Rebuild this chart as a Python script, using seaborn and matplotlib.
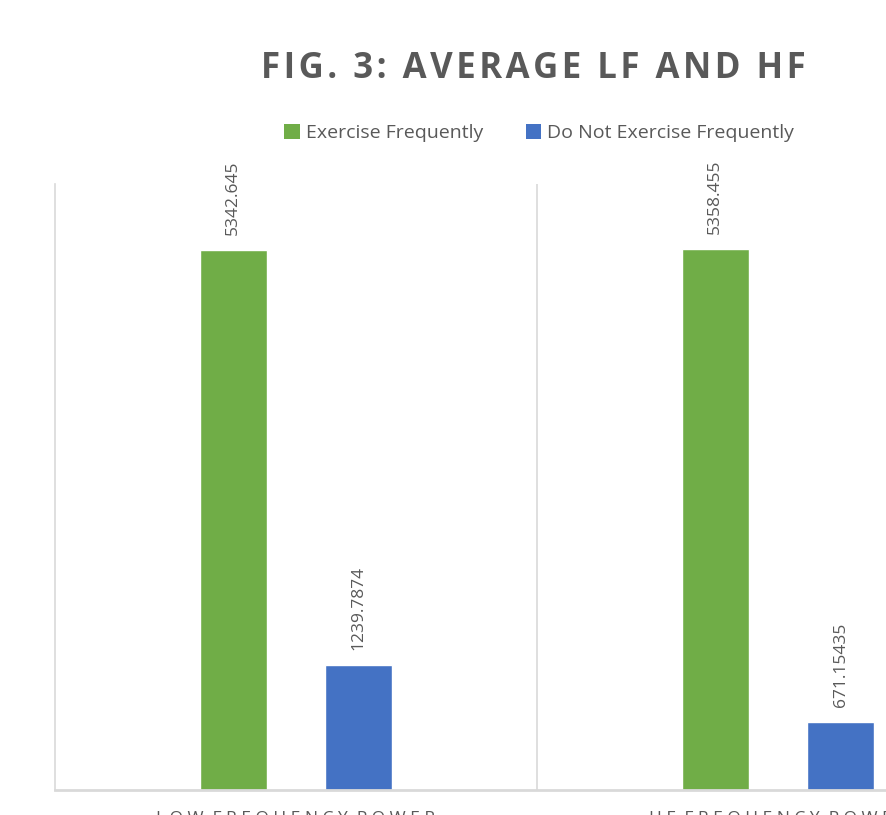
import matplotlib
matplotlib.use("Agg")
import matplotlib.pyplot as plt
import seaborn as sns
import pandas as pd
from matplotlib.patches import Patch

categories = ["LOW FREQUENCY POWER", "HF FREQUENCY POWER"]
groups = ["Exercise Frequently", "Do Not Exercise Frequently"]
exercise_vals = [5342.645, 5358.455]
no_exercise_vals = [1239.7874, 671.15435]
label_texts = [["5342.645", "5358.455"], ["1239.7874", "671.15435"]]
title = "FIG. 3: AVERAGE LF AND HF"

colors = ["#70AD47", "#4472C4"]
gray = "#595959"

df = pd.DataFrame({
    "category": categories * 2,
    "group": [groups[0]] * 2 + [groups[1]] * 2,
    "value": exercise_vals + no_exercise_vals,
})

sns.set_theme(style="white")
plt.rcParams["font.family"] = ["Open Sans", "DejaVu Sans"]

fig = plt.figure(figsize=(8.87, 8.15), dpi=100)
ax = fig.add_axes([55 / 887, 25 / 815, 964 / 887, 606 / 815])

sns.barplot(data=df, x="category", y="value", hue="group", order=categories,
            hue_order=groups, palette=colors, width=0.52, gap=0.47,
            saturation=1, ax=ax, legend=False, errorbar=None)

ax.set_xlim(-0.5, 1.5)
ax.set_ylim(0, 6000)
ax.set_yticks([])
ax.set_xlabel("")
ax.set_ylabel("")

for container, labels in zip(ax.containers, label_texts):
    ax.bar_label(container, labels=labels, rotation=90, padding=11,
                 fontsize=12.5, color=gray)

for s in ["top", "right"]:
    ax.spines[s].set_visible(False)
ax.spines["left"].set_color("#d9d9d9")
ax.spines["left"].set_linewidth(1.2)
ax.spines["bottom"].set_color("#d9d9d9")
ax.spines["bottom"].set_linewidth(2)
ax.axvline(0.5, color="#d9d9d9", lw=1.2, zorder=0)
ax.axvline(1.5, color="#d9d9d9", lw=1.2, zorder=0)


def spaced(s, sep):
    return sep.join(list(s))


def tick_spaced(s):
    return "  ".join(" ".join(list(w)) for w in s.split(" "))


ax.tick_params(axis="x", length=0, pad=15, labelsize=12.5, labelcolor=gray)
ax.set_xticks(range(len(categories)))
ax.set_xticklabels([tick_spaced(c) for c in categories])

fig.text(533 / 887, 1 - 69 / 815, spaced(title, "\u200a"), ha="center",
         va="center", fontsize=25, fontweight="bold", color=gray,
         family=["Open Sans", "DejaVu Sans"])

handles = [Patch(facecolor=c, edgecolor="none") for c in colors]
fig.legend(handles, groups, loc="center", bbox_to_anchor=(539 / 887, 1 - 133 / 815),
           ncol=2, frameon=False, fontsize=14, labelcolor=gray,
           handlelength=0.8, handleheight=0.8, handletextpad=0.3, columnspacing=2.2)

fig.savefig("out.png", dpi=100)
